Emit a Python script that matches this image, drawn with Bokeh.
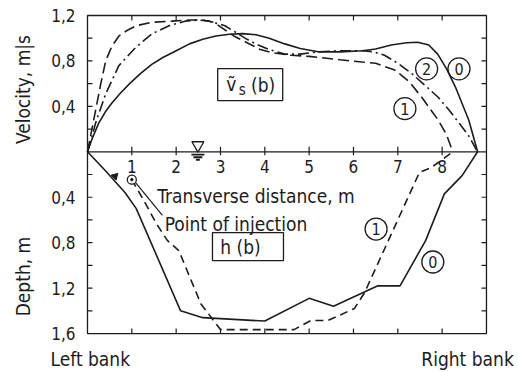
import math
from bokeh.plotting import figure
from bokeh.models import Range1d
from bokeh.core.properties import value
from bokeh.embed import file_html
from bokeh.resources import INLINE

INK = "#1c1c1c"
FONT = "'DejaVu Sans Condensed', 'DejaVu Sans'"

# ---- surface velocity across the section (m/s) ----
vel0_x = [0, 0.1, 0.25, 0.4, 0.55, 0.75, 0.95, 1.2, 1.45, 1.7, 2.0, 2.3, 2.6, 2.9, 3.2, 3.5,
          3.8, 4.1, 4.45, 4.8, 5.2, 5.7, 6.2, 6.5, 6.85, 7.2, 7.45, 7.7, 7.9, 8.1, 8.3, 8.6, 8.8]
vel0 = [0, 0.11, 0.25, 0.35, 0.43, 0.52, 0.60, 0.69, 0.77, 0.83, 0.89, 0.95, 0.99, 1.02, 1.035, 1.04,
        1.03, 1.00, 0.95, 0.91, 0.88, 0.88, 0.89, 0.905, 0.94, 0.96, 0.965, 0.94, 0.86, 0.73, 0.57, 0.28, 0]

vel1_x = [0, 0.08, 0.18, 0.3, 0.41, 0.55, 0.71, 0.9, 1.1, 1.45, 1.9, 2.3, 2.6, 2.85, 3.0,
          3.3, 3.6, 3.9, 4.2, 4.6, 5.0, 5.7, 6.2, 6.5, 6.93, 7.25, 7.54, 7.91, 8.1, 8.24]
vel1 = [0, 0.16, 0.36, 0.60, 0.80, 0.93, 1.02, 1.07, 1.11, 1.14, 1.15, 1.16, 1.16, 1.14, 1.10,
        1.02, 0.96, 0.90, 0.87, 0.85, 0.84, 0.81, 0.79, 0.78, 0.72, 0.62, 0.48, 0.28, 0.15, 0]

vel2_x = [0, 0.08, 0.18, 0.41, 0.71, 1.09, 1.46, 1.84, 2.2, 2.5, 2.75, 3.1, 3.35, 3.6, 3.85,
          4.1, 4.45, 4.8, 5.2, 5.7, 6.2, 6.45, 6.7, 7.0, 7.31, 7.6, 7.91, 8.15, 8.39, 8.6, 8.8]
vel2 = [0, 0.10, 0.25, 0.51, 0.76, 0.92, 1.04, 1.11, 1.15, 1.16, 1.15, 1.11, 1.05, 0.99, 0.94,
        0.90, 0.86, 0.86, 0.88, 0.89, 0.89, 0.88, 0.85, 0.78, 0.69, 0.59, 0.48, 0.37, 0.25, 0.14, 0]

# ---- flow depth across the section (m) ----
depth0_x = [0, 0.4, 0.85, 1.1, 2.1, 2.6, 4.0, 5.0, 5.55, 6.55, 7.05, 7.63, 8.05, 8.45, 8.8]
depth0 = [0, 0.165, 0.36, 0.5, 1.40, 1.46, 1.49, 1.29, 1.36, 1.18, 1.18, 0.78, 0.37, 0.21, 0]

depth1_x = [1.0, 1.3, 1.55, 1.8, 2.06, 2.56, 3.0, 4.66, 5.04, 5.42, 6.02, 6.25, 7.49, 7.75, 8.24]
depth1 = [0.245, 0.45, 0.63, 0.78, 0.87, 1.34, 1.565, 1.565, 1.485, 1.485, 1.38, 1.24, 0.18, 0.14, 0]

# injection point
inject_x = [1.0]
inject_depth = [0.245]

# axis extents and ticks
x_min, x_max = 0.0, 9.0
y_min, y_max = -1.6, 1.2
x_ticks = [1, 2, 3, 4, 5, 6, 7, 8]
x_tick_labels = ["1", "2", "3", "4", "5", "6", "7", "8"]
y_ticks = [-1.4, -1.2, -1.0, -0.8, -0.6, -0.4, -0.2, 0.2, 0.4, 0.6, 0.8, 1.0]
y_label_pos = [-1.6, -1.2, -0.8, -0.4, 0.4, 0.8, 1.2]
y_label_text = ["1,6", "1,2", "0,8", "0,4", "0,4", "0,8", "1,2"]

# circled run numbers
vel_tag_x = [7.65, 8.38, 7.16]
vel_tag_y = [0.73, 0.73, 0.38]
vel_tags = ["2", "0", "1"]
depth_tag_x = [6.51, 7.79]
depth_tag_d = [0.68, 0.97]
depth_tags = ["1", "0"]

# pixel scale of the drawing area: 44.33 px per metre across, 113.6 px per unit up
PX_X = 44.33
PX_Y = 113.6
W, H = 518, 372
LEFT_PX, ZERO_PX = 87, 151.3

p = figure(width=W, height=H,
           x_range=Range1d(-LEFT_PX / PX_X, (W - LEFT_PX) / PX_X),
           y_range=Range1d(-(H - ZERO_PX) / PX_Y, ZERO_PX / PX_Y),
           output_backend="svg", toolbar_location=None,
           x_axis_location=None, y_axis_location=None,
           min_border=0)
p.xgrid.visible = False
p.ygrid.visible = False
p.outline_line_color = None
p.background_fill_color = "white"
p.border_fill_color = "white"

tx = 5 / PX_X   # tick length across
ty = 5 / PX_Y   # tick length up/down


def text(x, y, s, size="19px", align="left", baseline="middle", angle=0.0, **kw):
    p.text(x=x, y=y, text=s, text_align=align, text_baseline=baseline, angle=angle,
           text_font=value(FONT), text_font_size=size, text_color=INK, **kw)


# frame
p.quad(left=[x_min], right=[x_max], bottom=[y_min], top=[y_max], fill_color=None,
       line_color=INK, line_width=1.3)

# inward ticks on all four sides
n = len(x_ticks)
p.segment(x0=x_ticks, y0=[y_max] * n, x1=x_ticks, y1=[y_max - ty] * n, line_color=INK, line_width=1.2)
p.segment(x0=x_ticks, y0=[y_min] * n, x1=x_ticks, y1=[y_min + ty] * n, line_color=INK, line_width=1.2)
m = len(y_ticks)
p.segment(x0=[x_min] * m, y0=y_ticks, x1=[x_min + tx] * m, y1=y_ticks, line_color=INK, line_width=1.2)
p.segment(x0=[x_max] * m, y0=y_ticks, x1=[x_max - tx] * m, y1=y_ticks, line_color=INK, line_width=1.2)

# left scale labels: velocity above the water line, depth below
text([-12 / PX_X] * len(y_label_pos), y_label_pos, y_label_text, size="17px", align="right")

# water surface line with transverse distance scale
p.segment(x0=[x_min], y0=[0], x1=[x_max], y1=[0], line_color=INK, line_width=1.3)
p.segment(x0=x_ticks, y0=[-3.5 / PX_Y] * n, x1=x_ticks, y1=[5 / PX_Y] * n,
          line_color=INK, line_width=1.2)
text(x_ticks, [-8.5 / PX_Y] * n, x_tick_labels, size="17px", align="center", baseline="top")

# velocity curves
p.line(vel0_x, vel0, line_color=INK, line_width=1.6)
p.line(vel1_x, vel1, line_color=INK, line_width=1.6, line_dash="11 5")
p.line(vel2_x, vel2, line_color=INK, line_width=1.6, line_dash="11 4 2 4")

# depth curves (drawn downward)
p.line(depth0_x, [-d for d in depth0], line_color=INK, line_width=1.6)
p.line(depth1_x, [-d for d in depth1], line_color=INK, line_width=1.6, line_dash="8 5")

# injection point and its leader
p.segment(x0=[1.69], y0=[-0.56], x1=[1.08], y1=[-0.27], line_color=INK, line_width=1.2)
p.scatter(inject_x, [-d for d in inject_depth], marker="circle", size=9, fill_color="white",
          line_color=INK, line_width=1.3)
p.scatter(inject_x, [-d for d in inject_depth], marker="circle", size=2.5, fill_color=INK,
          line_color=INK)
p.scatter([0.62], [-0.215], marker="triangle", size=7, angle=1.3, fill_color=INK, line_color=INK)

# water level symbol
p.scatter([2.49], [0.058], marker="inverted_triangle", size=12, fill_color="white",
          line_color=INK, line_width=1.3)
p.scatter([2.49, 2.49, 2.49], [-0.025, -0.048, -0.07], marker="dash", size=[13, 9, 4],
          line_color=INK, line_width=1.8)

# circled run numbers
p.scatter(vel_tag_x, vel_tag_y, marker="circle", size=22, fill_color=None, line_color=INK,
          line_width=1.3)
text(vel_tag_x, vel_tag_y, vel_tags, size="16px", align="center")
p.scatter(depth_tag_x, [-d for d in depth_tag_d], marker="circle", size=22, fill_color=None,
          line_color=INK, line_width=1.3)
text(depth_tag_x, [-d for d in depth_tag_d], depth_tags, size="16px", align="center")

# boxed symbols
p.rect([3.67], [0.592], width=65, height=32, width_units="screen", height_units="screen",
       fill_color="white", line_color=INK, line_width=1.3)
text([3.67], [0.592], ["v\u0303"], align="center", x_offset=-19, y_offset=-1)
text([3.67], [0.592], ["s"], size="15px", align="center", x_offset=-8, y_offset=5)
text([3.67], [0.592], ["(b)"], align="center", x_offset=13)

p.rect([3.62], [-0.834], width=71, height=28, width_units="screen", height_units="screen",
       fill_color="white", line_color=INK, line_width=1.3)
text([3.45], [-0.834], ["h (b)"], align="center")

# annotations in the plot
text([1.575], [-0.393], ["Transverse distance, m"], baseline="alphabetic")
text([1.74], [-0.634], ["Point of injection"], baseline="alphabetic")

# scale titles and bank names
text([-65 / PX_X], [0.548], ["Velocity, m|s"], align="center", angle=math.pi / 2)
text([-65 / PX_X], [-1.098], ["Depth, m"], align="center", angle=math.pi / 2)
text([-37 / PX_X], [-1.82], ["Left bank"])
text([7.53], [-1.82], ["Right bank"])

open("out.html", "w").write(file_html(p, INLINE))
